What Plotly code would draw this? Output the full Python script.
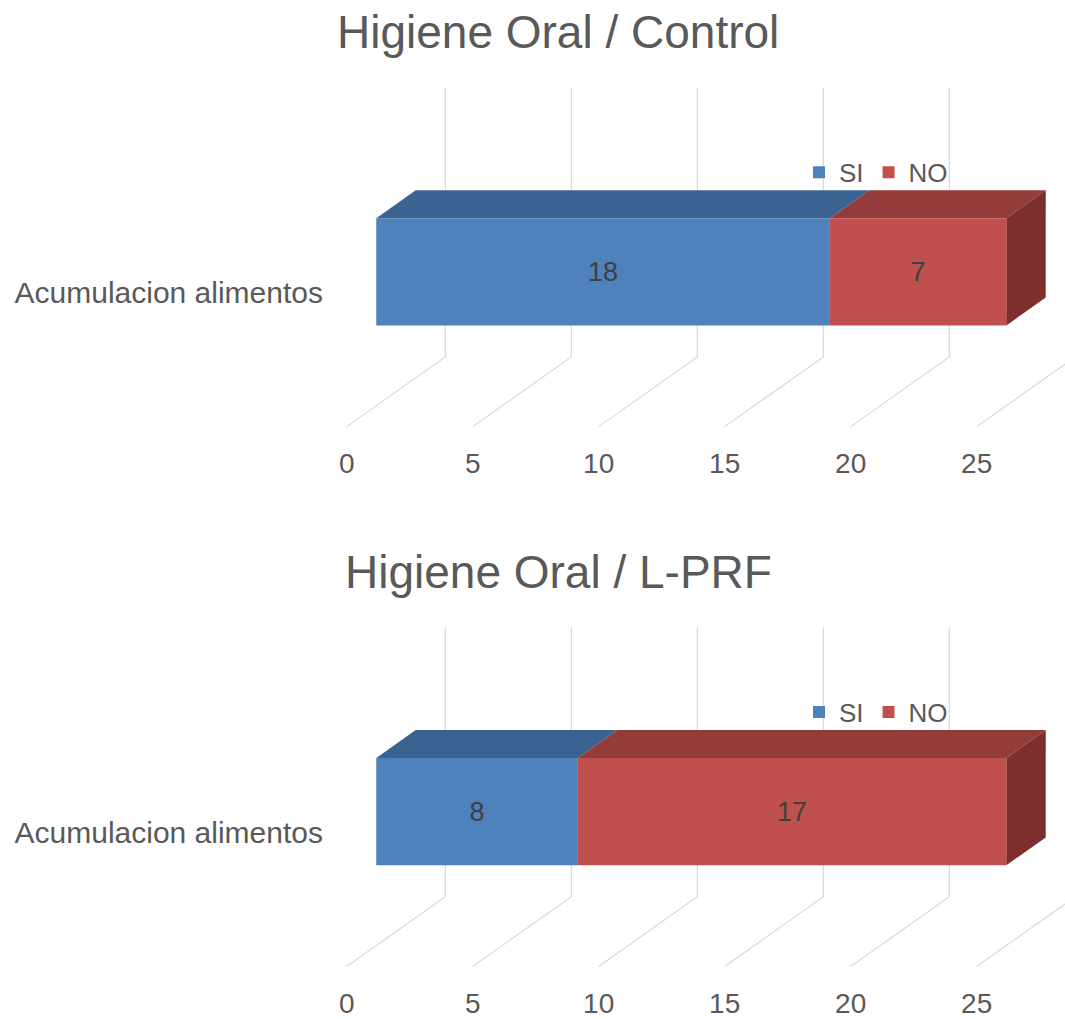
import plotly.graph_objects as go

# ---- data ----
categories = ["Acumulacion alimentos"]
series_names = ["SI", "NO"]
control_values = [18, 7]
lprf_values = [8, 17]
panel_titles = ["Higiene Oral / Control", "Higiene Oral / L-PRF"]
x_ticks = [0, 5, 10, 15, 20, 25]

# ---- styling ----
FRONT = ["#4f81bd", "#c0504d"]
TOP = ["#3b6392", "#933c39"]
SIDE = ["#33567f", "#7c2f2c"]
GRID = "#d9d9d9"
TEXT = "#595959"
FONT = "Liberation Sans, Arial, sans-serif"

W, H = 1065, 1019
PX_PER_UNIT = 25.2          # horizontal pixels per value unit
DEPTH_DX_PX = 98.6          # oblique depth offset (front floor -> back wall)
DEPTH_DY_PX = 70.0
DXU = DEPTH_DX_PX / PX_PER_UNIT
DY_UNITS = DEPTH_DY_PX

WALL_TOP = 270.3            # wall height (pixel units)
BAR_BOTTOM, BAR_TOP = 80.6, 188.3
D_FRONT, D_BACK = 0.30, 0.70

PLOT_LEFT = 330
ZERO_PX = 346.7
PANEL_SHIFT = 542
FLOOR_PX = 428.3
DOM_TOP_PX, DOM_BOT_PX = 80, 446


def proj(v, h, d):
    """Oblique projection of (value, height, depth) onto the subplot axes."""
    return v + d * DXU, h + d * DY_UNITS


def path(points):
    return "M " + " L ".join(f"{x:.4f},{y:.4f}" for x, y in points) + " Z"


fig = go.Figure()
shapes = []
annotations = []

x_range = [(PLOT_LEFT - ZERO_PX) / PX_PER_UNIT, (W - ZERO_PX) / PX_PER_UNIT]
y_range = [FLOOR_PX - DOM_BOT_PX, FLOOR_PX - DOM_TOP_PX]

for p, (title, values) in enumerate(zip(panel_titles, [control_values, lprf_values])):
    sfx = "" if p == 0 else str(p + 1)
    xref, yref = "x" + sfx, "y" + sfx
    off = p * PANEL_SHIFT

    # back wall gridlines and floor diagonals
    for t in x_ticks:
        bx, by_top = proj(t, WALL_TOP, 1.0)
        _, by_bot = proj(t, 0, 1.0)
        fx, fy = proj(t, 0, 0.0)
        shapes.append(dict(type="path", xref=xref, yref=yref, layer="below",
                           path=f"M {bx},{by_top} L {bx},{by_bot} L {fx},{fy}",
                           line=dict(color=GRID, width=1.2)))

    # stacked 3D segments
    start = 0
    for i, (name, val) in enumerate(zip(series_names, values)):
        end = start + val
        fx0, fy0 = proj(start, BAR_BOTTOM, D_FRONT)
        fig.add_trace(go.Bar(
            orientation="h",
            x=[val], base=[fx0],
            y=[(BAR_BOTTOM + BAR_TOP) / 2 + D_FRONT * DY_UNITS],
            width=[BAR_TOP - BAR_BOTTOM],
            name=name,
            marker=dict(color=FRONT[i], line=dict(width=0)),
            text=[str(val)], textposition="inside", insidetextanchor="middle",
            textfont=dict(size=27, color="#404040", family=FONT),
            xaxis=xref, yaxis=yref,
            legend="legend" + sfx,
            hoverinfo="skip",
        ))
        # top face
        shapes.append(dict(type="path", xref=xref, yref=yref, layer="below",
                           path=path([proj(start, BAR_TOP, D_FRONT), proj(end, BAR_TOP, D_FRONT),
                                      proj(end, BAR_TOP, D_BACK), proj(start, BAR_TOP, D_BACK)]),
                           fillcolor=TOP[i], line=dict(width=0)))
        # right side face of the last segment
        if i == len(values) - 1:
            shapes.append(dict(type="path", xref=xref, yref=yref, layer="below",
                               path=path([proj(end, BAR_BOTTOM, D_FRONT), proj(end, BAR_TOP, D_FRONT),
                                          proj(end, BAR_TOP, D_BACK), proj(end, BAR_BOTTOM, D_BACK)]),
                               fillcolor=SIDE[i], line=dict(width=0)))
        start = end

    dom_y = [(H - DOM_BOT_PX - off) / H, (H - DOM_TOP_PX - off) / H]
    cat_y = (BAR_BOTTOM + BAR_TOP) / 2
    fig.update_layout(**{
        "xaxis" + sfx: dict(domain=[PLOT_LEFT / W, 1], range=x_range, anchor=yref,
                            tickvals=x_ticks, ticktext=[str(t) for t in x_ticks],
                            showgrid=False, zeroline=False, showline=False, ticks="",
                            tickfont=dict(size=28, color=TEXT, family=FONT)),
        "yaxis" + sfx: dict(domain=dom_y, range=y_range, anchor=xref,
                            tickvals=[cat_y], ticktext=categories,
                            showgrid=False, zeroline=False, showline=False, ticks="",
                            ticklabelstandoff=6,
                            tickfont=dict(size=30, color=TEXT, family=FONT)),
        "legend" + sfx: dict(orientation="h", x=799 / W, xanchor="left",
                             y=(H - 173 - off) / H, yanchor="middle",
                             font=dict(size=26, color=TEXT, family=FONT),
                             bgcolor="rgba(0,0,0,0)", itemclick=False),
    })

    annotations.append(dict(text=title, xref="paper", yref="paper",
                            x=558 / W, y=(H - 32 - off) / H, xanchor="center", yanchor="middle",
                            showarrow=False, font=dict(size=46, color=TEXT, family=FONT)))

fig.update_layout(
    width=W, height=H, margin=dict(l=0, r=0, t=0, b=0),
    paper_bgcolor="white", plot_bgcolor="rgba(0,0,0,0)",
    barmode="overlay", showlegend=True,
    shapes=shapes, annotations=annotations,
)

fig.write_html("out.html")
